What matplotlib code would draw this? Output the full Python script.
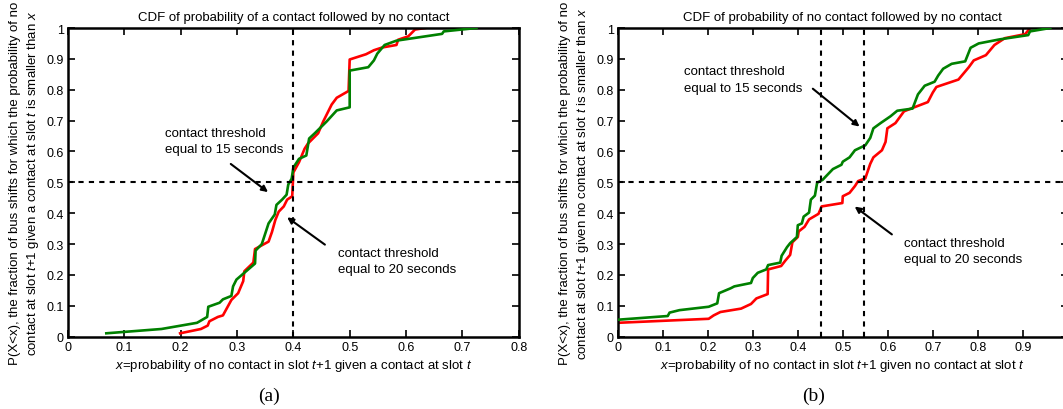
import matplotlib
matplotlib.use("Agg")
import matplotlib.pyplot as plt

plt.rcParams['font.family'] = ['Liberation Sans', 'DejaVu Sans']
plt.rcParams['mathtext.fontset'] = 'custom'
plt.rcParams['mathtext.rm'] = 'Liberation Sans'
plt.rcParams['mathtext.it'] = 'Liberation Sans:italic'

# Panel (a): contact followed by no contact
a_green_x = [0.068, 0.166, 0.229, 0.247, 0.249, 0.269, 0.275, 0.290, 0.293, 0.299, 0.332, 0.333,
             0.344, 0.356, 0.367, 0.370, 0.380, 0.388, 0.391, 0.397, 0.400, 0.410, 0.423, 0.428,
             0.438, 0.459, 0.477, 0.500, 0.500, 0.533, 0.543, 0.549, 0.562, 0.583, 0.664, 0.667, 0.725]
a_green_y = [0.011, 0.025, 0.045, 0.064, 0.097, 0.110, 0.121, 0.132, 0.163, 0.185, 0.237, 0.279,
             0.300, 0.367, 0.396, 0.427, 0.444, 0.460, 0.493, 0.512, 0.548, 0.576, 0.587, 0.642,
             0.659, 0.697, 0.733, 0.743, 0.862, 0.873, 0.895, 0.917, 0.945, 0.959, 0.981, 0.989, 1.000]
a_red_x = [0.199, 0.236, 0.248, 0.251, 0.266, 0.275, 0.290, 0.302, 0.311, 0.313, 0.329, 0.332,
           0.356, 0.362, 0.368, 0.374, 0.383, 0.389, 0.398, 0.400, 0.410, 0.420, 0.426, 0.444,
           0.453, 0.468, 0.477, 0.498, 0.500, 0.529, 0.543, 0.558, 0.583, 0.586, 0.604, 0.616, 0.634]
a_red_y = [0.011, 0.025, 0.036, 0.050, 0.064, 0.069, 0.119, 0.141, 0.180, 0.212, 0.240, 0.284,
           0.308, 0.339, 0.378, 0.405, 0.422, 0.444, 0.455, 0.532, 0.565, 0.609, 0.626, 0.659,
           0.697, 0.752, 0.774, 0.796, 0.898, 0.915, 0.928, 0.937, 0.945, 0.962, 0.973, 0.995, 1.000]

# Panel (b): no contact followed by no contact
b_green_x = [0.000, 0.111, 0.115, 0.137, 0.202, 0.221, 0.225, 0.251, 0.259, 0.296, 0.300, 0.311,
             0.330, 0.334, 0.361, 0.364, 0.376, 0.383, 0.398, 0.400, 0.409, 0.413, 0.425, 0.429,
             0.438, 0.443, 0.455, 0.478, 0.497, 0.500, 0.515, 0.527, 0.550, 0.561, 0.568, 0.584,
             0.606, 0.621, 0.655, 0.667, 0.682, 0.704, 0.712, 0.723, 0.742, 0.772, 0.784, 0.802,
             0.848, 0.912, 0.916, 0.961]
b_green_y = [0.055, 0.067, 0.078, 0.086, 0.097, 0.108, 0.141, 0.157, 0.163, 0.174, 0.190, 0.207,
             0.218, 0.232, 0.240, 0.262, 0.290, 0.303, 0.323, 0.361, 0.367, 0.389, 0.402, 0.444,
             0.457, 0.499, 0.508, 0.543, 0.557, 0.567, 0.581, 0.604, 0.620, 0.644, 0.675, 0.692,
             0.714, 0.732, 0.739, 0.785, 0.813, 0.826, 0.846, 0.868, 0.884, 0.892, 0.936, 0.950,
             0.963, 0.977, 0.989, 1.000]
b_red_x = [0.000, 0.202, 0.213, 0.228, 0.274, 0.296, 0.308, 0.333, 0.334, 0.363, 0.372, 0.383,
           0.388, 0.400, 0.402, 0.415, 0.425, 0.446, 0.453, 0.499, 0.500, 0.515, 0.527, 0.534,
           0.550, 0.561, 0.568, 0.587, 0.595, 0.599, 0.617, 0.636, 0.655, 0.689, 0.700, 0.708,
           0.757, 0.780, 0.791, 0.818, 0.837, 0.860, 0.905, 0.912, 0.916]
b_red_y = [0.045, 0.058, 0.069, 0.080, 0.091, 0.106, 0.124, 0.138, 0.218, 0.229, 0.246, 0.265,
           0.306, 0.323, 0.341, 0.356, 0.380, 0.398, 0.422, 0.433, 0.455, 0.466, 0.488, 0.504,
           0.513, 0.560, 0.581, 0.604, 0.631, 0.675, 0.692, 0.730, 0.741, 0.760, 0.791, 0.809,
           0.833, 0.873, 0.895, 0.912, 0.945, 0.967, 0.980, 0.992, 1.000]

a_vlines = [0.4]
b_vlines = [0.452, 0.546]
hline = 0.5

a_xticks = [0, 0.1, 0.2, 0.3, 0.4, 0.5, 0.6, 0.7, 0.8]
b_xticks = [0, 0.1, 0.2, 0.3, 0.4, 0.5, 0.6, 0.7, 0.8, 0.9, 1.0]
b_xticklabels = ['0', '0.1', '0.2', '0.3', '0.4', '0.5', '0.6', '0.7', '0.8', '0.9', '']
yticks = [0, 0.1, 0.2, 0.3, 0.4, 0.5, 0.6, 0.7, 0.8, 0.9, 1.0]

GREEN = '#008000'
RED = '#ff0000'
FS = 9
LFS = 9.5

fig = plt.figure(figsize=(10.63, 4.10), dpi=100)
ax_a = fig.add_axes([68 / 1063, 1 - 337.7 / 410, 450.7 / 1063, 308.7 / 410])
ax_b = fig.add_axes([617.8 / 1063, 1 - 337.7 / 410, 450.0 / 1063, 308.7 / 410])


def fmt(v):
    return '0' if v == 0 else ('1' if v == 1 else f'{v:g}')


def style(ax, xticks, xlim, xlabels=None):
    ax.set_xlim(*xlim)
    ax.set_ylim(0, 1)
    ax.set_xticks(xticks)
    ax.set_xticklabels(xlabels if xlabels is not None else [fmt(v) for v in xticks], fontsize=FS)
    ax.set_yticks(yticks)
    ax.set_yticklabels([fmt(v) for v in yticks], fontsize=FS)
    ax.tick_params(direction='in', top=True, right=True, length=5, width=1.2, pad=3)
    for s in ax.spines.values():
        s.set_linewidth(1.8)


# Panel (a)
ax = ax_a
ax.plot(a_green_x, a_green_y, color=GREEN, lw=1.9, zorder=3)
ax.plot(a_red_x, a_red_y, color=RED, lw=1.9, zorder=2)
for v in a_vlines:
    ax.axvline(v, color='black', ls=(0, (2.5, 2.5)), lw=1.5, zorder=4)
ax.axhline(hline, color='black', ls=(0, (2.5, 2.5)), lw=1.5, zorder=4)
style(ax, a_xticks, (0, 0.8))
ax.set_title('CDF of probability of a contact followed by no contact', fontsize=LFS, pad=6)
ax.set_xlabel(r'$\mathit{x}$=probability of no contact in slot $\mathit{t{+}1}$ given a contact at slot $\mathit{t}$',
              fontsize=LFS, labelpad=3)
ax.set_ylabel('P(X<x), the fraction of bus shifts for which the probability of no\n'
              r'contact at slot $\mathit{t{+}1}$ given a contact at slot $\mathit{t}$ is smaller than $\mathit{x}$',
              fontsize=LFS, labelpad=4, linespacing=1.35)
ax.text(0.173, 0.68, 'contact threshold\nequal to 15 seconds', fontsize=LFS, va='top', ha='left',
        linespacing=1.5)
ax.annotate('', xy=(0.359, 0.463), xytext=(0.285, 0.565),
            arrowprops=dict(arrowstyle='-|>', color='black', lw=1.5, mutation_scale=9))
ax.text(0.48, 0.292, 'contact threshold\nequal to 20 seconds', fontsize=LFS, va='top', ha='left',
        linespacing=1.5)
ax.annotate('', xy=(0.385, 0.392), xytext=(0.46, 0.293),
            arrowprops=dict(arrowstyle='-|>', color='black', lw=1.5, mutation_scale=9))

# Panel (b)
ax = ax_b
ax.plot(b_green_x, b_green_y, color=GREEN, lw=1.9, zorder=3)
ax.plot(b_red_x, b_red_y, color=RED, lw=1.9, zorder=2)
for v in b_vlines:
    ax.axvline(v, color='black', ls=(0, (2.5, 2.5)), lw=1.5, zorder=4)
ax.axhline(hline, color='black', ls=(0, (2.5, 2.5)), lw=1.5, zorder=4)
style(ax, b_xticks, (0, 1.0), b_xticklabels)
ax.set_title('CDF of probability of no contact followed by no contact', fontsize=LFS, pad=6)
ax.set_xlabel(r'$\mathit{x}$=probability of no contact in slot $\mathit{t{+}1}$ given no contact at slot $\mathit{t}$',
              fontsize=LFS, labelpad=3)
ax.set_ylabel('P(X<x), the fraction of bus shifts for which the probability of no\n'
              r'contact at slot $\mathit{t{+}1}$ given no contact at slot $\mathit{t}$ is smaller than $\mathit{x}$',
              fontsize=LFS, labelpad=4, linespacing=1.35)
ax.text(0.147, 0.879, 'contact threshold\nequal to 15 seconds', fontsize=LFS, va='top', ha='left',
        linespacing=1.5)
ax.annotate('', xy=(0.542, 0.675), xytext=(0.4286, 0.809),
            arrowprops=dict(arrowstyle='-|>', color='black', lw=1.5, mutation_scale=9))
ax.text(0.636, 0.323, 'contact threshold\nequal to 20 seconds', fontsize=LFS, va='top', ha='left',
        linespacing=1.5)
ax.annotate('', xy=(0.5215, 0.427), xytext=(0.614, 0.326),
            arrowprops=dict(arrowstyle='-|>', color='black', lw=1.5, mutation_scale=9))

fig.text(269 / 1063, 1 - 396 / 410, '(a)', fontsize=14, family='Liberation Serif', ha='center', va='center')
fig.text(814 / 1063, 1 - 396 / 410, '(b)', fontsize=14, family='Liberation Serif', ha='center', va='center')

fig.savefig('out.png', dpi=100)
